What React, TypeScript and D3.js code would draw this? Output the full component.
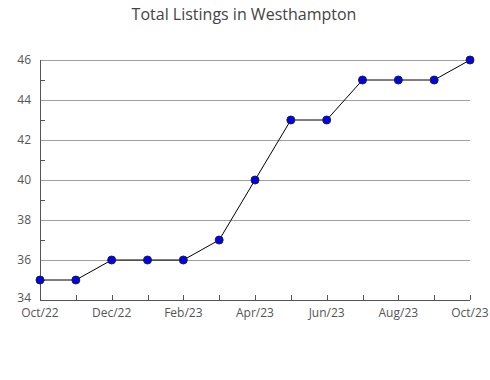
import React from "react";
import * as d3 from "d3";

const months = ["Oct/22","Nov/22","Dec/22","Jan/23","Feb/23","Mar/23","Apr/23","May/23","Jun/23","Jul/23","Aug/23","Sep/23","Oct/23"];
const values = [35,35,36,36,36,37,40,43,43,45,45,45,46];
const yMajor = [34,36,38,40,42,44,46];
const yMinor = [35,37,39,41,43,45];
const title = "Total Listings in Westhampton";

export default function App() {
  const W = 490, H = 380;
  const x = d3.scalePoint<string>().domain(months).range([40, 470]);
  const y = d3.scaleLinear().domain([34, 46]).range([300, 60]);
  const line = d3.line<number>().x((_, i) => x(months[i])!).y(d => y(d));
  const font = "'Open Sans', 'Noto Sans', sans-serif";
  return (
    <svg width={W} height={H} style={{ position: "absolute", left: 0, top: 0 }} fontFamily={font}>
      <rect width={W} height={H} fill="#fff" />
      <text x={244} y={20} textAnchor="middle" fontSize={16} fill="#444">{title}</text>
      {yMajor.filter(v => v !== 34).map(v => (
        <line key={v} x1={40} x2={470} y1={y(v) + 0.5} y2={y(v) + 0.5} stroke="#a0a0a0" strokeWidth={1} />
      ))}
      {yMinor.map(v => (
        <line key={v} x1={40} x2={45} y1={y(v) + 0.5} y2={y(v) + 0.5} stroke="#555" strokeWidth={1} />
      ))}
      {yMajor.map(v => (
        <text key={v} x={31} y={v === 34 ? y(v) - 2 : y(v)} dy="0.35em" textAnchor="end" fontSize={12} fill="#555">{v}</text>
      ))}
      <line x1={40.5} x2={40.5} y1={60} y2={300} stroke="#555" />
      <line x1={40} x2={470} y1={300.5} y2={300.5} stroke="#555" />
      {months.map((m) => (
        <line key={m} x1={Math.round(x(m)!) + 0.5} x2={Math.round(x(m)!) + 0.5} y1={295} y2={300} stroke="#555" />
      ))}
      {months.map((m, i) => i % 2 === 0 ? (
        <text key={m} x={x(m)!} y={317} textAnchor="middle" fontSize={12} fill="#555">{m}</text>
      ) : null)}
      <path d={line(values)!} fill="none" stroke="#000" strokeWidth={1} />
      {values.map((v, i) => (
        <circle key={i} cx={x(months[i])!} cy={y(v)} r={4} fill="#0000ff" stroke="#222" strokeWidth={1} />
      ))}
    </svg>
  );
}
